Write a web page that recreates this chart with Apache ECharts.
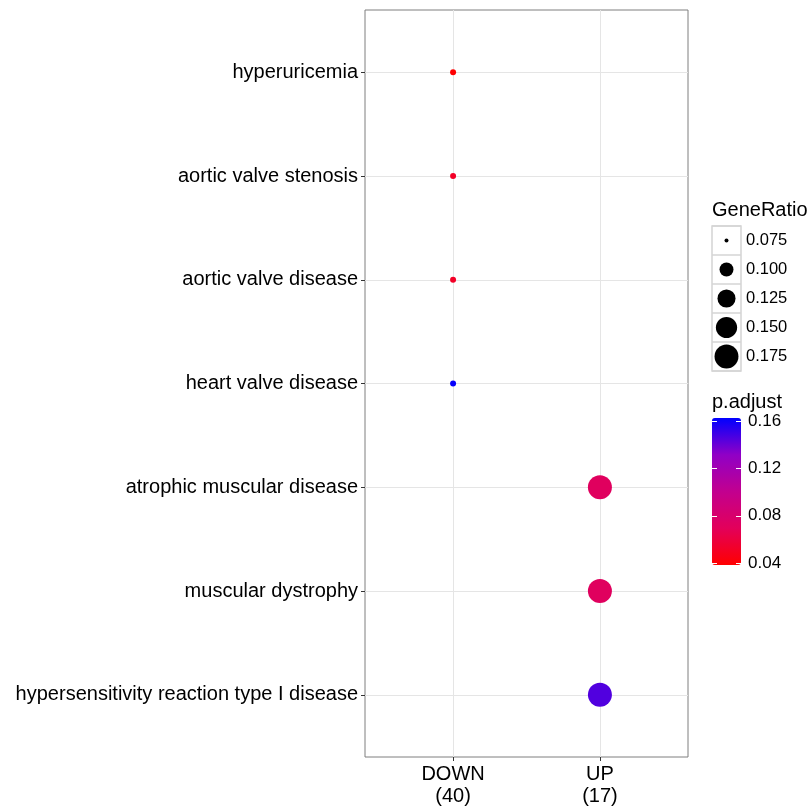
<!DOCTYPE html>
<html lang="en">
<head>
    <meta charset="UTF-8">
    <title>enrichment dotplot</title>
    <style type="text/css">
        html,body{
            margin:0;
            padding:0;
            background-color:#ffffff;
        }
        #chart{
            width:811px;
            height:808px;
        }
    </style>
</head>
<body>
<div id="chart"></div>
</body>
<script src="https://cdn.jsdelivr.net/npm/echarts@6/dist/echarts.min.js"></script>
<script type="text/javascript">
    // terms, top to bottom
    var categories = ['hyperuricemia', 'aortic valve stenosis', 'aortic valve disease', 'heart valve disease',
        'atrophic muscular disease', 'muscular dystrophy', 'hypersensitivity reaction type I disease'];
    var clusters = ['DOWN', 'UP'];
    var clusterSizes = [40, 17];
    var termCluster = [0, 0, 0, 0, 1, 1, 1];
    var geneRatio = [0.076, 0.076, 0.076, 0.076, 0.176, 0.176, 0.176];
    var pAdjust = [0.039, 0.052, 0.052, 0.161, 0.072, 0.072, 0.145];

    var sizeBreaks = [0.075, 0.100, 0.125, 0.150, 0.175];
    var colorBreaks = [0.04, 0.08, 0.12, 0.16];
    var ratioMin = 0.075, ratioMax = 0.176;
    var pMin = 0.0385, pMax = 0.1625;

    var font = 'Liberation Sans, Arial, Helvetica, sans-serif';

    // ggplot-like area scale
    function dotSize(v){
        var t = Math.max(0, (v - ratioMin) / (ratioMax - ratioMin));
        return 4 * (1 + 5 * Math.sqrt(t));
    }

    var points = categories.map(function(c, i){
        return [termCluster[i], i, geneRatio[i], pAdjust[i]];
    });
    var idx = categories.map(function(c, i){ return i; });
    var xIdx = clusters.map(function(c, i){ return i; });

    var chart = echarts.init(document.getElementById('chart'));
    chart.setOption({
        backgroundColor: '#ffffff',
        animation: false,
        textStyle: {fontFamily: font},
        title: [
            {text: 'GeneRatio', left: 712, top: 200, padding: 0,
                textStyle: {fontSize: 20, fontWeight: 'normal', color: '#000', fontFamily: font}},
            {text: 'p.adjust', left: 712, top: 392, padding: 0,
                textStyle: {fontSize: 20, fontWeight: 'normal', color: '#000', fontFamily: font}}
        ],
        grid: [
            {left: 365, top: 10, width: 323, height: 747, show: true, borderColor: '#7f7f7f', borderWidth: 1, backgroundColor: '#fff'},
            {left: 712, top: 226, width: 29, height: 145, show: true, borderColor: '#d4d4d4', borderWidth: 1.5},
            {left: 712, top: 418, width: 29, height: 147}
        ],
        xAxis: [
            {
                gridIndex: 0, type: 'value', min: -0.6, max: 1.6,
                axisLine: {show: false, onZero: false},
                axisTick: {show: true, customValues: xIdx, length: 4, lineStyle: {color: '#333'}},
                axisLabel: {
                    customValues: xIdx, margin: 6, fontSize: 20, lineHeight: 22, color: '#000', fontFamily: font,
                    formatter: function(v){ return clusters[v] + '\n(' + clusterSizes[v] + ')'; }
                },
                splitLine: {show: true, lineStyle: {color: '#e5e5e5', width: 1}}
            },
            {gridIndex: 1, type: 'value', min: -1, max: 1, show: false, axisLine: {onZero: false}},
            {gridIndex: 2, type: 'value', min: -1, max: 1, show: false, axisLine: {onZero: false}}
        ],
        yAxis: [
            {
                gridIndex: 0, type: 'value', min: -0.6, max: 6.6, inverse: true,
                axisLine: {show: false, onZero: false},
                axisTick: {show: true, customValues: idx, length: 4, lineStyle: {color: '#333'}},
                axisLabel: {
                    customValues: idx, margin: 7, fontSize: 20, color: '#000', fontFamily: font,
                    padding: [4, 0, 0, 0],
                    formatter: function(v){ return categories[v]; }
                },
                splitLine: {show: true, lineStyle: {color: '#e5e5e5', width: 1}}
            },
            {
                gridIndex: 1, type: 'category', inverse: true, position: 'right',
                data: sizeBreaks.map(function(v){ return v.toFixed(3); }),
                axisLine: {show: false, onZero: false},
                axisTick: {show: false},
                axisLabel: {margin: 5, fontSize: 16.5, color: '#000', fontFamily: font},
                splitLine: {show: true, lineStyle: {color: '#d4d4d4', width: 1.5}}
            },
            {
                gridIndex: 2, type: 'value', min: pMin, max: pMax, position: 'right', z: 10,
                axisLine: {show: false, onZero: false},
                axisTick: {show: true, inside: true, customValues: colorBreaks, length: 5, lineStyle: {color: '#fff', width: 1}},
                axisLabel: {
                    customValues: colorBreaks, margin: 7, fontSize: 17, color: '#000', fontFamily: font,
                    formatter: function(v){ return v.toFixed(2); }
                },
                splitLine: {show: false}
            },
            {
                gridIndex: 2, type: 'value', min: pMin, max: pMax, position: 'left', z: 10,
                axisLine: {show: false, onZero: false},
                axisTick: {show: true, inside: true, customValues: colorBreaks, length: 5, lineStyle: {color: '#fff', width: 1}},
                axisLabel: {show: false},
                splitLine: {show: false}
            }
        ],
        visualMap: {
            type: 'continuous',
            min: pMin, max: pMax,
            dimension: 3,
            seriesIndex: 0,
            left: 712, top: 418,
            itemWidth: 29, itemHeight: 147,
            padding: 0,
            calculable: false,
            showLabel: false,
            hoverLink: false,
            text: null,
            inRange: {color: ['#ff0000', '#e3005a', '#c2008f', '#9000c6', '#0000ff']}
        },
        series: [
            {
                type: 'scatter',
                xAxisIndex: 0, yAxisIndex: 0,
                data: points,
                symbolSize: function(d){ return dotSize(d[2]); },
                itemStyle: {opacity: 1},
                z: 5
            },
            {
                type: 'scatter',
                xAxisIndex: 1, yAxisIndex: 1,
                data: sizeBreaks.map(function(v, i){ return [0, i, v]; }),
                symbolSize: function(d){ return dotSize(d[2]); },
                itemStyle: {color: '#000', opacity: 1}
            }
        ]
    });
</script>
</html>
